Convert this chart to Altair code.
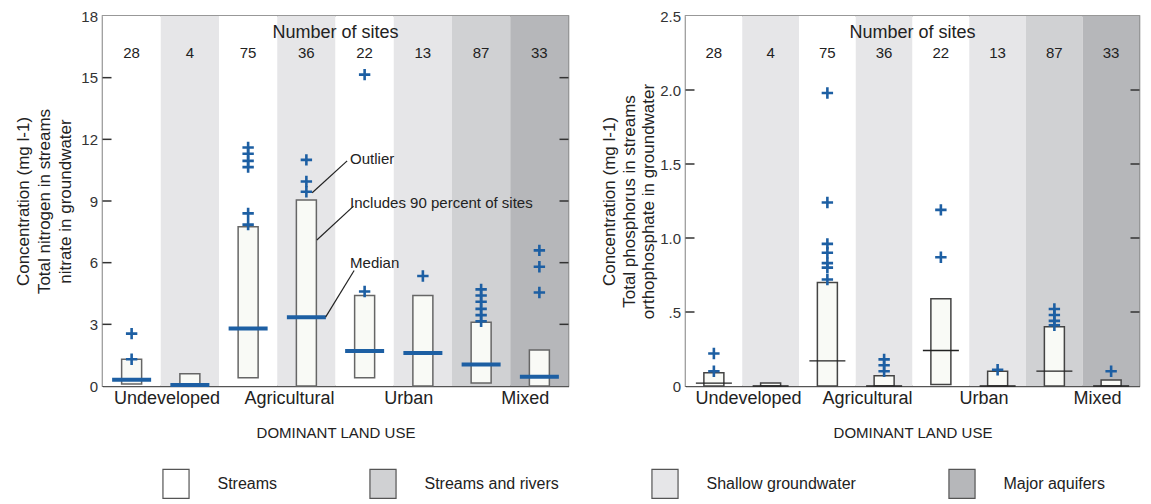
import altair as alt
import pandas as pd

# ---------------- data ----------------
land_use = ["Undeveloped", "Undeveloped", "Agricultural", "Agricultural",
            "Urban", "Urban", "Mixed", "Mixed"]
network = ["Streams", "Shallow groundwater", "Streams", "Shallow groundwater",
           "Streams", "Shallow groundwater", "Streams and rivers", "Major aquifers"]
n_sites = [28, 4, 75, 36, 22, 13, 87, 33]

# Nitrogen / nitrate (left panel)
n_low = [0.1, 0.0, 0.4, 0.0, 0.4, 0.0, 0.15, 0.0]
n_high = [1.3, 0.6, 7.75, 9.05, 4.4, 4.4, 3.1, 1.75]
n_med = [0.3, 0.05, 2.8, 3.35, 1.7, 1.6, 1.05, 0.45]
n_outliers = [
    [2.55, 1.3],
    [],
    [11.6, 11.3, 10.95, 10.65, 8.4, 7.85],
    [11.0, 9.95, 9.45],
    [15.15, 4.6],
    [5.35],
    [4.7, 4.4, 4.1, 3.75, 3.45, 3.15],
    [6.6, 5.8, 4.55],
]

# Phosphorus / orthophosphate (right panel)
p_low = [0.0, 0.0, 0.0, 0.0, 0.01, 0.0, 0.0, 0.0]
p_high = [0.09, 0.02, 0.7, 0.07, 0.59, 0.1, 0.4, 0.04]
p_med = [0.02, 0.0, 0.17, 0.0, 0.24, 0.0, 0.1, 0.0]
p_outliers = [
    [0.22, 0.1],
    [],
    [1.98, 1.24, 0.96, 0.9, 0.83, 0.8, 0.72],
    [0.18, 0.14, 0.1],
    [1.19, 0.87],
    [0.11],
    [0.52, 0.48, 0.44, 0.41],
    [0.1],
]

group_labels = ["Undeveloped", "Agricultural", "Urban", "Mixed"]
group_label_pos = [1.1, 3.2, 5.25, 7.25]

n_ticks = [0, 3, 6, 9, 12, 15, 18]
p_ticks = [0, 0.5, 1.0, 1.5, 2.0, 2.5]

legend_order = ["Streams", "Streams and rivers", "Shallow groundwater", "Major aquifers"]
legend_colors = ["#ffffff", "#d0d1d3", "#e6e6e8", "#b6b7ba"]

# annotation (left panel)
ann_text = ["Outlier", "Includes 90 percent of sites", "Median"]
ann_text_x = [4.25, 4.25, 4.25]
ann_text_y = [11.06, 8.9, 6.0]
ann_x1 = [4.2, 4.31, 4.32]
ann_y1 = [10.95, 8.75, 5.62]
ann_x2 = [3.6, 3.68, 3.83]
ann_y2 = [9.4, 7.1, 3.35]

FONT = "Liberation Sans"
BLUE = "#1d5fa3"
PLUS = "M-1,0H1M0,-1V1"
H = 370


def panel(low, high, med, outliers, ticks, ymax, title, label_expr, width,
          median_mark, box_stroke, show_legend, annotate, title_pad, title_lh):
    df = pd.DataFrame({
        "col": list(range(8)),
        "land_use": land_use,
        "network": network,
        "n": n_sites,
        "low": low,
        "high": high,
        "med": med,
    })
    out_rows = []
    for i, vals in enumerate(outliers):
        for v in vals:
            out_rows.append({"col": i, "value": v})
    odf = pd.DataFrame(out_rows)

    xs = alt.Scale(domain=[0, 8], nice=False, zero=False, padding=0)
    ys = alt.Scale(domain=[0, ymax], nice=False, zero=True, padding=0)

    label_map = " : ".join(
        f"abs(datum.value - {p}) < 0.01 ? '{l}'" for p, l in zip(group_label_pos, group_labels)
    ) + " : ''"

    xaxis = alt.Axis(values=group_label_pos, labelExpr=label_map, ticks=False, grid=False,
                     labelFontSize=18, labelColor="#222", labelPadding=3,
                     domainColor="#555", domainWidth=1.5,
                     title="DOMINANT LAND USE", titleFontSize=15, titleFontWeight="normal",
                     titleColor="#222", titlePadding=18, labelFlush=False)
    yaxis = alt.Axis(values=ticks, labelExpr=label_expr, ticks=False, grid=False,
                     labelFontSize=15, labelColor="#333", labelPadding=5,
                     domainColor="#333", domainWidth=1.5,
                     title=title, titleFontSize=17, titleFontWeight="normal",
                     titleColor="#222", titlePadding=title_pad, titleLineHeight=title_lh)

    base = alt.Chart(df).transform_calculate(
        center="datum.col + 0.5", col_end="datum.col + 1")

    fill_kwargs = dict(scale=alt.Scale(domain=legend_order, range=legend_colors))
    if show_legend:
        fill_kwargs["legend"] = alt.Legend(
            title=None, orient="none", legendX=58, legendY=452,
            direction="horizontal", columns=4,
            symbolType="M-0.9,-1H0.9V1H-0.9Z", symbolSize=841,
            symbolStrokeColor="#555", symbolStrokeWidth=1.2,
            labelFontSize=16, labelColor="#222", labelFont=FONT,
            labelOffset=26, columnPadding=90, padding=0)
    else:
        fill_kwargs["legend"] = None

    bg = base.mark_rect().encode(
        x=alt.X("col:Q", scale=xs, axis=xaxis),
        x2="col_end:Q",
        y=alt.value(0), y2=alt.value(H),
        fill=alt.Fill("network:N", sort=legend_order, **fill_kwargs),
    )
    box = base.mark_bar(size=20, fill="#f9faf6", stroke=box_stroke, strokeWidth=1.5).encode(
        x=alt.X("center:Q", scale=xs),
        y=alt.Y("low:Q", scale=ys, axis=yaxis),
        y2="high:Q",
    )
    median = base.mark_tick(orient="horizontal", opacity=1, **median_mark).encode(
        x=alt.X("center:Q", scale=xs),
        y=alt.Y("med:Q", scale=ys),
    )
    pts = alt.Chart(odf).transform_calculate(center="datum.col + 0.5").mark_point(
        shape=PLUS, size=130, filled=False, stroke=BLUE, strokeWidth=2.6, opacity=1
    ).encode(x=alt.X("center:Q", scale=xs), y=alt.Y("value:Q", scale=ys))

    counts = base.mark_text(fontSize=15, color="#222", font=FONT).encode(
        x=alt.X("center:Q", scale=xs), y=alt.value(37), text="n:Q")
    header = alt.Chart(pd.DataFrame({"t": ["Number of sites"]})).mark_text(
        fontSize=18, color="#222", font=FONT).encode(
        x=alt.value(width / 2), y=alt.value(17), text="t:N")

    tdf = pd.DataFrame({"v": ticks[1:-1]})
    lt = alt.Chart(tdf).mark_rule(color="#333", strokeWidth=1.5).encode(
        y=alt.Y("v:Q", scale=ys), x=alt.value(0), x2=alt.value(9))
    rt = alt.Chart(tdf).mark_rule(color="#333", strokeWidth=1.5).encode(
        y=alt.Y("v:Q", scale=ys), x=alt.value(width - 9), x2=alt.value(width))

    layers = [bg, box, median, pts, counts, header, lt, rt]

    if annotate:
        adf = pd.DataFrame({"x1": ann_x1, "y1": ann_y1, "x2": ann_x2, "y2": ann_y2})
        tdf2 = pd.DataFrame({"x": ann_text_x, "y": ann_text_y, "t": ann_text})
        rules = alt.Chart(adf).mark_rule(color="#222", strokeWidth=1.2).encode(
            x=alt.X("x1:Q", scale=xs), y=alt.Y("y1:Q", scale=ys),
            x2="x2:Q", y2="y2:Q")
        texts = alt.Chart(tdf2).mark_text(align="left", fontSize=15, color="#222",
                                          font=FONT).encode(
            x=alt.X("x:Q", scale=xs), y=alt.Y("y:Q", scale=ys), text="t:N")
        layers += [rules, texts]

    return alt.layer(*layers).properties(width=width, height=H)


left = panel(n_low, n_high, n_med, n_outliers, n_ticks, 18,
             ["Concentration (mg l-1)", "Total nitrogen in streams", "nitrate in groundwater"],
             "datum.label", 466,
             dict(size=39, thickness=4, color=BLUE), "#666", True, True, 6, 21)

right = panel(p_low, p_high, p_med, p_outliers, p_ticks, 2.5,
              ["Concentration (mg l-1)", "Total phosphorus in streams", "orthophosphate in groundwater"],
              "datum.value == 0 ? '0' : (datum.value == 0.5 ? '.5' : format(datum.value, '.1f'))", 454,
              dict(size=36, thickness=1.3, color="#222"), "#444", False, False, 2, 19.5)

chart = alt.hconcat(left, right, spacing=29).properties(
    padding={"left": 5.5, "top": 0, "right": 0, "bottom": 0}
).configure(font=FONT).configure_view(stroke="#777", strokeWidth=1.5)

chart.save("out.html", embed_options={"renderer": "svg", "actions": False})
